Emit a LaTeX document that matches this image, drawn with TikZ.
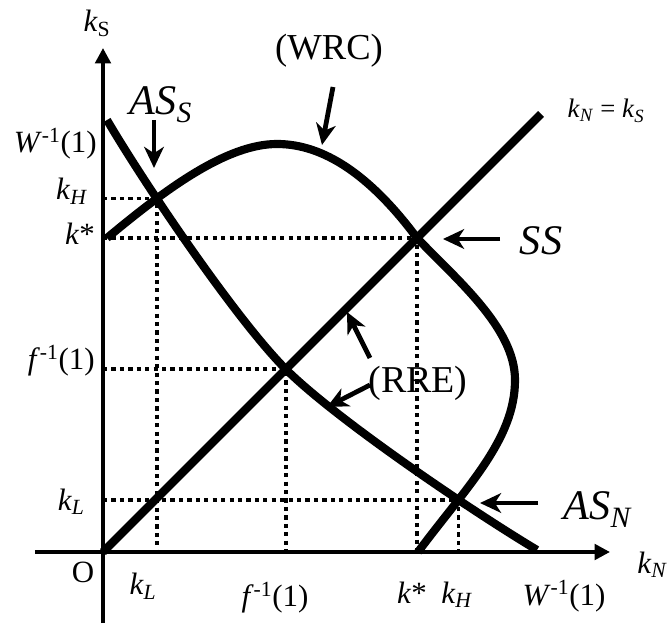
\documentclass[tikz,border=0pt]{standalone}
\usepackage{fontspec}
\setmainfont{Liberation Serif}
\usetikzlibrary{arrows.meta,intersections}
\newcommand{\kk}[1]{\textit{k}\textsubscript{\textit{#1}}}
\newcommand{\invone}[1]{\textit{#1}\textsuperscript{-1}(1)}

\begin{document}
\begin{tikzpicture}[
    axis/.style={line width=2.6pt, -{Triangle[length=11pt,width=11pt]}},
    curve/.style={line width=5.8pt},
    dotline/.style={line width=2.8pt, dash pattern=on 3pt off 3pt},
    pointer/.style={line width=3.4pt, -{Stealth[length=15pt,width=14pt,inset=4.5pt]}},
    lbl/.style={inner sep=0pt, font=\fontsize{22}{26}\selectfont},
    biglbl/.style={inner sep=0pt, font=\fontsize{30}{34}\selectfont}
]
    \useasboundingbox (-2.575,-1.825) rectangle (14.15,13.8);

    % axes
    \coordinate (o) at (0,0);
    \draw[axis] (-1.7,0) -- (12.675,0);
    \draw[axis] (0,-1.775) -- (0,12.6);

    % the three curves (paths only, drawn later on top of the guides)
    \path[name path=diag] (o) -- (10.95,10.95);
    \path[name path=rre] (0.1,10.8) .. controls (1.1,9.1) and (3.37,5.77) .. (4.57,4.57)
        .. controls (5.77,3.37) and (9.1,1.1) .. (10.85,0.05);
    \path[name path=wrc] (0.1,7.85) .. controls (1.6,9.1) and (3.1,10.2) .. (4.35,10.2)
        .. controls (5.52,10.2) and (6.68,9.42) .. (7.85,7.85)
        .. controls (8.85,6.8) and (10.3,5.6) .. (10.3,4.3)
        .. controls (10.3,2.8) and (9.08,1.62) .. (7.875,0.0);

    % where the curves meet
    \path[name intersections={of=rre and wrc, sort by=rre, by={ass,asn}}];
    \path[name intersections={of=diag and wrc, by={ss}}];
    \path[name intersections={of=diag and rre, by={ff}}];

    % dotted guides
    \draw[dotline] (ass -| o) -- (ass) -- (ass |- o);
    \draw[dotline] (ss -| o) -- (ss) -- (ss |- o);
    \draw[dotline] (ff -| o) -- (ff) -- (ff |- o);
    \draw[dotline] (asn -| o) -- (asn) -- (asn |- o);

    % 45 degree line, RRE and WRC
    \draw[curve] (o) -- (10.95,10.95);
    \draw[curve] (0.1,10.8) .. controls (1.1,9.1) and (3.37,5.77) .. (4.57,4.57)
        .. controls (5.77,3.37) and (9.1,1.1) .. (10.85,0.05);
    \draw[curve] (0.1,7.85) .. controls (1.6,9.1) and (3.1,10.2) .. (4.35,10.2)
        .. controls (5.52,10.2) and (6.68,9.42) .. (7.85,7.85)
        .. controls (8.85,6.8) and (10.3,5.6) .. (10.3,4.3)
        .. controls (10.3,2.8) and (9.08,1.62) .. (7.875,0.0);

    % axis labels
    \node[lbl, anchor=base] (ks) at (-0.15,13.0) {\textit{k}\textsubscript{S}};
    \node[lbl, anchor=base west] (kn) at (13.35,-0.525) {\kk{N}};
    \node[lbl, anchor=base] (orig) at (-0.5,-0.75) {O};
    \node[lbl, anchor=base, font=\fontsize{19}{22}\selectfont] (diaglbl) at (12.575,10.85) {\kk{N} = \kk{S}};

    % ticks on the vertical axis
    \node[lbl, anchor=base east] (ywinv) at (-0.15,9.975) {\invone{W}};
    \node[lbl, anchor=base east] (ykh) at (-0.375,8.8) {\kk{H}};
    \node[lbl, anchor=base east] (ykstar) at (-0.2,7.675) {\textit{k}*};
    \node[lbl, anchor=base east] (yfinv) at (-0.2,4.55) {\invone{f}};
    \node[lbl, anchor=base east] (ykl) at (-0.45,1.05) {\kk{L}};

    % ticks on the horizontal axis
    \node[lbl, anchor=base] (xkl) at (1.0,-1.07) {\kk{L}};
    \node[lbl, anchor=base] (xfinv) at (4.3,-1.37) {\invone{f}};
    \node[lbl, anchor=base] (xkstar) at (7.725,-1.28) {\textit{k}*};
    \node[lbl, anchor=base] (xkh) at (8.85,-1.28) {\kk{H}};
    \node[lbl, anchor=base] (xwinv) at (11.525,-1.33) {\invone{W}};

    % curve names
    \node[biglbl, anchor=base] (lblass) at (1.45,10.925) {\textit{AS}\textsubscript{\textit{S}}};
    \node[biglbl, anchor=base] (lblasn) at (12.375,0.8) {\textit{AS}\textsubscript{\textit{N}}};
    \node[biglbl, anchor=base] (lblss) at (10.95,7.425) {\textit{SS}};
    \node[lbl, anchor=base, font=\fontsize{26}{30}\selectfont] (lblwrc) at (5.65,12.3) {(WRC)};
    \node[lbl, anchor=base, font=\fontsize{27}{30}\selectfont] (lblrre) at (7.875,3.975) {(RRE)};

    % pointers
    \coordinate (pass) at (1.275,10.8);   \coordinate (hass) at (1.275,9.6);
    \coordinate (pwrc) at (5.75,11.625);  \coordinate (hwrc) at (5.475,10.175);
    \coordinate (pss) at (9.925,7.825);   \coordinate (hss) at (8.5,7.825);
    \coordinate (pasn) at (10.875,1.225); \coordinate (hasn) at (9.425,1.225);
    \coordinate (prre) at (6.675,4.85);   \coordinate (hrre) at (6.1,6.0);
    \coordinate (qrre) at (6.675,4.175);  \coordinate (grre) at (5.6,3.625);
    \draw[pointer] (pass) -- (hass);
    \draw[pointer] (pwrc) -- (hwrc);
    \draw[pointer] (pss) -- (hss);
    \draw[pointer] (pasn) -- (hasn);
    \draw[pointer] (prre) -- (hrre);
    \draw[pointer] (qrre) -- (grre);
\end{tikzpicture}
\end{document}
